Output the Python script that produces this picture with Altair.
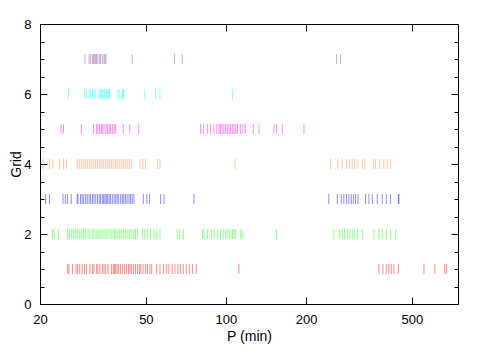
import altair as alt
import pandas as pd

# Period values (min) of the tick marks for each grid row
grid1 = [25.4, 25.7, 26.5, 27.3, 27.7, 28.2, 28.8, 29.4, 29.9, 30.8, 31.5, 31.9, 32.6, 33.0,
         33.6, 34.3, 34.8, 35.3, 36.0, 37.1, 37.7, 38.1, 38.5, 39.0, 39.5, 40.2, 40.9, 41.6,
         42.3, 43.0, 43.5, 44.1, 44.9, 45.7, 46.5, 47.3, 47.9, 48.8, 49.8, 50.7, 51.8, 52.6,
         54.9, 56.5, 58.2, 59.9, 61.0, 62.8, 64.3, 66.0, 67.5, 69.1, 70.9, 72.8, 74.8, 77.3,
         111.8, 375.7, 388.9, 400.5, 409.6, 418.2, 427.8, 444.4, 554.7, 610.0, 665.0, 675.0]
grid2 = [22.3, 22.6, 23.5, 25.4, 25.8, 26.3, 26.7, 27.2, 27.7, 28.2, 28.7, 29.2, 29.7, 30.3,
         30.8, 31.4, 31.9, 32.5, 33.0, 33.6, 34.2, 34.8, 35.4, 36.0, 36.7, 37.3, 38.0, 38.5,
         39.2, 39.9, 40.6, 41.3, 42.0, 42.8, 43.5, 44.3, 45.1, 45.7, 46.5, 48.5, 49.5, 50.7,
         52.1, 53.7, 54.9, 56.5, 65.6, 67.1, 69.1, 81.7, 82.8, 85.3, 88.3, 90.3, 93.1, 95.4,
         97.7, 99.7, 101.7, 103.5, 105.7, 107.2, 108.8, 113.3, 115.7, 155.0, 254.5, 267.9,
         273.6, 279.1, 285.7, 292.1, 298.4, 304.3, 311.6, 325.4, 359.8, 375.7, 386.8, 400.5,
         415.7, 434.1]
grid3 = [21.0, 21.7, 24.4, 24.9, 25.4, 26.2, 27.6, 27.8, 28.4, 28.8, 29.2, 29.7, 30.1, 30.6,
         31.0, 31.5, 31.9, 32.4, 32.9, 33.4, 33.8, 34.3, 34.7, 35.1, 35.5, 35.9, 36.4, 36.8,
         37.4, 38.0, 38.5, 39.0, 39.5, 40.2, 40.8, 41.3, 41.9, 42.5, 43.2, 43.8, 44.4, 45.1,
         48.9, 50.4, 51.6, 56.8, 58.5, 75.8, 243.6, 262.1, 271.2, 277.4, 284.0, 289.7, 295.8,
         301.0, 307.0, 313.7, 334.8, 344.5, 354.8, 370.5, 386.8, 400.5, 415.7, 444.4, 446.7]
grid4 = [20.5, 21.7, 22.3, 23.7, 24.5, 25.2, 27.6, 28.1, 28.6, 29.1, 29.6, 30.1, 30.7, 31.2,
         31.8, 32.3, 32.9, 33.5, 34.0, 34.6, 35.2, 35.9, 36.5, 37.1, 37.7, 38.4, 39.0, 39.7,
         40.4, 41.1, 41.8, 42.5, 43.3, 44.1, 47.5, 48.7, 49.8, 55.2, 56.5, 108.1, 247.3,
         263.5, 273.6, 284.0, 292.1, 298.4, 304.3, 311.6, 325.4, 333.0, 357.9, 365.1, 378.6,
         392.3, 404.0, 415.7]
grid5 = [24.0, 24.5, 28.6, 31.8, 32.6, 33.0, 33.5, 34.0, 34.3, 34.8, 35.4, 35.9, 36.4, 36.8,
         37.4, 38.0, 38.5, 41.1, 43.5, 47.0, 80.3, 82.2, 85.3, 87.5, 90.1, 92.4, 94.3, 95.4,
         96.8, 98.2, 99.7, 101.2, 102.7, 104.1, 105.7, 107.2, 108.8, 110.4, 113.3, 115.7,
         118.2, 126.7, 133.1, 151.4, 155.0, 162.8, 196.4]
grid6 = [25.6, 29.5, 29.9, 30.6, 31.0, 31.5, 31.9, 32.4, 33.4, 33.8, 34.1, 34.4, 34.8, 35.1,
         35.6, 35.9, 36.3, 36.6, 39.2, 39.7, 40.8, 41.1, 41.3, 49.5, 54.4, 56.5, 105.7]
grid7 = [29.5, 30.6, 31.0, 31.5, 31.8, 32.1, 32.4, 32.6, 33.0, 33.5, 33.8, 34.3, 34.8, 35.1,
         35.4, 44.4, 64.1, 68.5, 260.5, 269.6]

grid_ids = [1, 2, 3, 4, 5, 6, 7]
grid_colors = ["#ff0000", "#00ff00", "#0000ff", "#ff7f3f", "#ff00ff", "#00ffff", "#8c468c"]
x_major = [20, 50, 100, 200, 500]
y_major = [0, 2, 4, 6, 8]
y_minor = [0.5, 1, 1.5, 2.5, 3, 3.5, 4.5, 5, 5.5, 6.5, 7, 7.5]

series = [grid1, grid2, grid3, grid4, grid5, grid6, grid7]
records = [{"P": p, "Grid": g} for g, vals in zip(grid_ids, series) for p in vals]
df = pd.DataFrame(records)

FONT = "Liberation Sans"
x_scale = alt.Scale(type="log", domain=[20, 745], nice=False)
y_scale = alt.Scale(domain=[0, 8], nice=False)

base = alt.Chart(df)

marks = base.mark_tick(orient="vertical", thickness=1, size=10, opacity=0.45).encode(
    x=alt.X("P:Q", scale=x_scale,
            axis=alt.Axis(orient="bottom", values=x_major, title="P (min)", offset=-7,
                          tickSize=7, domain=False, labelPadding=9, format="d",
                          labelFlush=False, titlePadding=3)),
    y=alt.Y("Grid:Q", scale=y_scale,
            axis=alt.Axis(orient="left", values=y_major, title="Grid", offset=-7,
                          tickSize=7, domain=False, labelPadding=9, format="d",
                          titleX=-24, titleBaseline="bottom")),
    color=alt.Color("Grid:N", scale=alt.Scale(domain=grid_ids, range=grid_colors), legend=None),
)

left_minor = base.mark_point(opacity=0).encode(
    x=alt.X("P:Q", scale=x_scale, axis=None),
    y=alt.Y("Grid:Q", scale=y_scale,
            axis=alt.Axis(orient="left", values=y_minor, labels=False, title="", offset=-4,
                          tickSize=4, domain=False)),
)
right_major = base.mark_point(opacity=0).encode(
    x=alt.X("P:Q", scale=x_scale, axis=None),
    y=alt.Y("Grid:Q", scale=y_scale,
            axis=alt.Axis(orient="right", values=y_major, labels=False, title="", offset=-7,
                          tickSize=7, domain=False)),
)
right_minor = base.mark_point(opacity=0).encode(
    x=alt.X("P:Q", scale=x_scale, axis=None),
    y=alt.Y("Grid:Q", scale=y_scale,
            axis=alt.Axis(orient="right", values=y_minor, labels=False, title="", offset=-4,
                          tickSize=4, domain=False)),
)
top_major = base.mark_point(opacity=0).encode(
    x=alt.X("P:Q", scale=x_scale,
            axis=alt.Axis(orient="top", values=x_major, labels=False, title="", offset=-7,
                          tickSize=7, domain=False)),
    y=alt.Y("Grid:Q", scale=y_scale, axis=None),
)

chart = alt.layer(marks, left_minor, right_major, right_minor, top_major).resolve_axis(
    x="independent", y="independent"
).properties(
    width=418, height=280, autosize="none",
    padding={"left": 32, "top": 16, "right": 15, "bottom": 42},
).configure_view(
    stroke="black", strokeWidth=1
).configure_axis(
    grid=False, tickColor="black", labelColor="black", titleColor="black",
    labelFont=FONT, titleFont=FONT, labelFontSize=13, titleFontSize=14,
    titleFontWeight="normal", tickWidth=1
)

chart.save("out.html", embed_options={"renderer": "svg", "actions": False})
